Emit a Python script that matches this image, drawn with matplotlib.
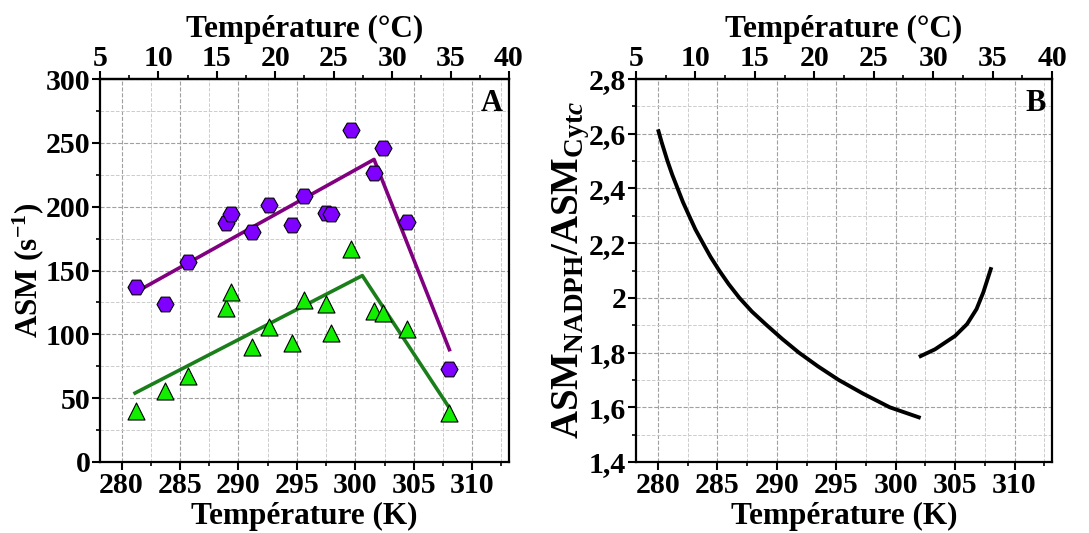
import matplotlib
matplotlib.use("Agg")
import matplotlib.pyplot as plt
from matplotlib.ticker import MultipleLocator, FuncFormatter

plt.rcParams['font.family'] = ['Liberation Serif', 'DejaVu Serif']
plt.rcParams['font.weight'] = 'bold'
plt.rcParams['mathtext.fontset'] = 'custom'
plt.rcParams['mathtext.rm'] = 'Liberation Serif:bold'
plt.rcParams['mathtext.bf'] = 'Liberation Serif:bold'
plt.rcParams['mathtext.it'] = 'Liberation Serif:bold:italic'

# ---- Panel A data (temperature in K, ASM in s^-1) ----
purple_T = [281.2, 283.7, 285.65, 288.95, 289.4, 291.2, 292.6, 294.6, 295.6,
            297.5, 297.9, 299.6, 301.6, 302.35, 304.45, 308.0]
purple_ASM = [137, 124, 157, 187, 194, 180, 201, 186, 208,
              195, 194, 260, 226, 246, 188, 73]
green_T = [281.2, 283.7, 285.65, 288.95, 289.4, 291.2, 292.6, 294.6, 295.6,
           297.5, 297.9, 299.6, 301.6, 302.35, 304.45, 308.0]
green_ASM = [40, 56, 67, 121, 133, 90, 106, 93, 127,
             124, 101, 167, 118, 117, 104, 38]
purple_fit_T = [281.2, 301.6, 308.05]
purple_fit_ASM = [133, 237, 88]
green_fit_T = [281.15, 300.6, 308.0]
green_fit_ASM = [54, 146, 43]

# ---- Panel B data (ratio curves) ----
ratio1_T = [280.0, 280.3, 280.8, 281.2, 281.65, 282.1, 282.62, 283.15, 283.78,
            284.42, 285.15, 285.95, 286.85, 287.9, 289.15, 290.45, 291.85,
            293.45, 295.2, 297.25, 299.5, 302.1]
ratio1_val = [2.616, 2.57, 2.50, 2.45, 2.40, 2.35, 2.30, 2.25, 2.20,
              2.15, 2.10, 2.05, 2.00, 1.95, 1.90, 1.85, 1.80,
              1.75, 1.70, 1.65, 1.60, 1.561]
ratio2_T = [301.95, 303.31, 305.0, 306.0, 306.8, 307.37, 308.05]
ratio2_val = [1.784, 1.812, 1.861, 1.904, 1.959, 2.020, 2.112]

FS = 21.5      # tick labels
FL = 22.5      # axis labels
W, H = 1089, 533
fig = plt.figure(figsize=(W / 100, H / 100), dpi=100)
axA = fig.add_axes([100 / W, (H - 462) / H, 409 / W, 383 / H])
axB = fig.add_axes([636 / W, (H - 462) / H, 416 / W, 383 / H])

K0 = 273.15


def style(ax):
    ax.set_xlim(278.15, 313.15)
    ax.xaxis.set_major_locator(MultipleLocator(5))
    ax.xaxis.set_minor_locator(MultipleLocator(2.5))
    ax.grid(True, which='major', color='#a0a0a0', linestyle='--', linewidth=0.8)
    ax.grid(True, which='minor', color='#cccccc', linestyle='--', linewidth=0.7)
    ax.set_axisbelow(True)
    for s in ax.spines.values():
        s.set_linewidth(1.6)
    ax.tick_params(which='major', direction='out', length=6, width=1.5,
                   labelsize=FS, pad=1)
    ax.tick_params(which='minor', direction='out', length=3, width=1.2)
    ax.tick_params(axis='y', right=False)
    for lab in ax.get_xticklabels() + ax.get_yticklabels():
        lab.set_fontweight('bold')
    ax.set_xlabel('Température (K)', fontsize=FL, fontweight='bold', labelpad=2)
    sec = ax.secondary_xaxis('top', functions=(lambda k: k - K0, lambda c: c + K0))
    sec.xaxis.set_major_locator(MultipleLocator(5))
    sec.xaxis.set_minor_locator(MultipleLocator(2.5))
    sec.tick_params(which='major', direction='out', length=6, width=1.5,
                    labelsize=FS, pad=-1)
    sec.tick_params(which='minor', direction='out', length=3, width=1.2)
    sec.spines['top'].set_linewidth(1.6)
    sec.set_xlabel('Température (°C)', fontsize=FL, fontweight='bold', labelpad=6)
    for lab in sec.get_xticklabels():
        lab.set_fontweight('bold')
    return sec


# Panel A
axA.plot(purple_fit_T, purple_fit_ASM, color='#800080', lw=2.6, zorder=2)
axA.plot(green_fit_T, green_fit_ASM, color='#1a7f1a', lw=2.6, zorder=2)
axA.scatter(purple_T, purple_ASM, marker='H', s=150, facecolor='#7f00ff',
            edgecolor='black', linewidth=0.8, zorder=3)
axA.scatter(green_T, green_ASM, marker='^', s=150, facecolor='#11ee00',
            edgecolor='black', linewidth=0.8, zorder=3)
axA.set_ylim(0, 300)
axA.yaxis.set_major_locator(MultipleLocator(50))
axA.yaxis.set_minor_locator(MultipleLocator(25))
style(axA)
axA.set_ylabel(r'ASM (s$^{\mathrm{-1}}$)', fontsize=FL, fontweight='bold', labelpad=0)
axA.text(0.985, 0.975, 'A', transform=axA.transAxes, ha='right', va='top',
         fontsize=22, fontweight='bold')

# Panel B
axB.plot(ratio1_T, ratio1_val, color='black', lw=2.8, solid_capstyle='butt',
         solid_joinstyle='round')
axB.plot(ratio2_T, ratio2_val, color='black', lw=2.8, solid_capstyle='butt',
         solid_joinstyle='round')
axB.set_ylim(1.4, 2.8)
axB.yaxis.set_major_locator(MultipleLocator(0.2))
axB.yaxis.set_minor_locator(MultipleLocator(0.1))
axB.yaxis.set_major_formatter(FuncFormatter(lambda v, p: f'{v:g}'.replace('.', ',')))
style(axB)
axB.set_ylabel(r'ASM$_{\mathrm{NADPH}}$/ASM$_{\mathrm{Cyt}\mathit{c}}$',
               fontsize=28, fontweight='bold', labelpad=-2)
axB.text(0.985, 0.975, 'B', transform=axB.transAxes, ha='right', va='top',
         fontsize=22, fontweight='bold')

fig.savefig('out.png', dpi=100)
